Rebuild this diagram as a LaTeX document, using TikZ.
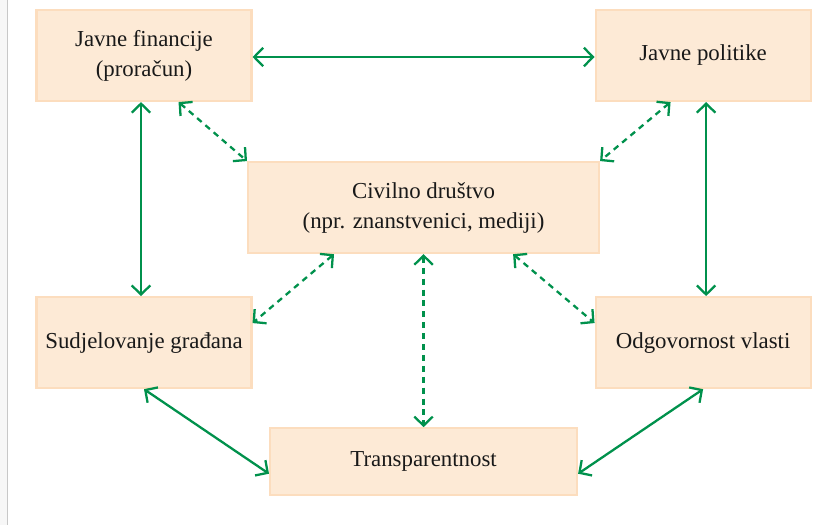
\documentclass[tikz,border=0pt]{standalone}
\usepackage{fontspec}
\setmainfont{Liberation Serif}
\usetikzlibrary{arrows.meta, positioning, calc}
\definecolor{BoxFill}{RGB}{253,234,214}
\definecolor{BoxLine}{RGB}{252,221,190}
\definecolor{LinkGreen}{RGB}{0,145,76}
\definecolor{EdgeGray}{RGB}{200,200,200}

\begin{document}
\begin{tikzpicture}[
    block/.style={
        rectangle, minimum width=#1, minimum height=1.82cm,
        draw=BoxLine, fill=BoxFill, line width=1.2pt, align=center,
        font=\fontsize{13}{17}\selectfont, text=black!90, inner sep=4pt
    },
    block/.default={4.3cm},
    link/.style={
        {Straight Barb[length=1.8mm, width=3.7mm]}-{Straight Barb[length=1.8mm, width=3.7mm]},
        LinkGreen, line width=1.3pt
    },
    dlink/.style={link, dash pattern=on 3.4pt off 2.8pt}
]

% Page edge
\useasboundingbox (-2.88,1.11) rectangle (13.72,-9.39);
\fill[gray!6] (-2.88,1.11) rectangle (-2.74,-9.39);
\draw[EdgeGray, line width=0.8pt] (-2.73,1.11) -- (-2.73,-9.39);

% --- Top row ---
\node[block] (jf) at (0,0) {Javne financije\\(proračun)};
\node[block, right=6.84cm of jf] (jp) {Javne politike};

% --- Middle ---
\coordinate (top) at ($(jf.south)!0.5!(jp.south)$);
\node[block=7.02cm, below=1.18cm of top] (civil)
    {Civilno društvo\\(npr. znanstvenici, mediji)};

% --- Lower row ---
\node[block, below=3.88cm of jf] (sg) {Sudjelovanje građana};
\node[block, below=3.88cm of jp] (ov) {Odgovornost vlasti};
\node[block=6.14cm, minimum height=1.34cm, below=3.46cm of civil] (tr)
    {Transparentnost};

% Solid links
\draw[link] ([yshift=-0.03cm]jf.east) -- ([yshift=-0.03cm]jp.west);
\draw[link] ([xshift=-0.06cm]jf.south) -- ([xshift=-0.06cm]sg.north);
\draw[link] ([xshift=0.06cm]jp.south) -- ([xshift=0.06cm]ov.north);
\draw[link] (sg.south) -- ([yshift=-0.24cm]tr.west);
\draw[link] (ov.south) -- ([yshift=-0.24cm]tr.east);

% Dashed links (civil society)
\draw[dlink] ([xshift=-1.48cm]jf.south east) -- (civil.north west);
\draw[dlink] ([xshift=1.52cm]jp.south west) -- (civil.north east);
\draw[dlink] ([xshift=1.74cm]civil.south west) -- ([yshift=-0.54cm]sg.north east);
\draw[dlink] ([xshift=-1.74cm]civil.south east) -- ([yshift=-0.54cm]ov.north west);
\draw[dlink] (civil.south) -- (tr.north);

\end{tikzpicture}
\end{document}
